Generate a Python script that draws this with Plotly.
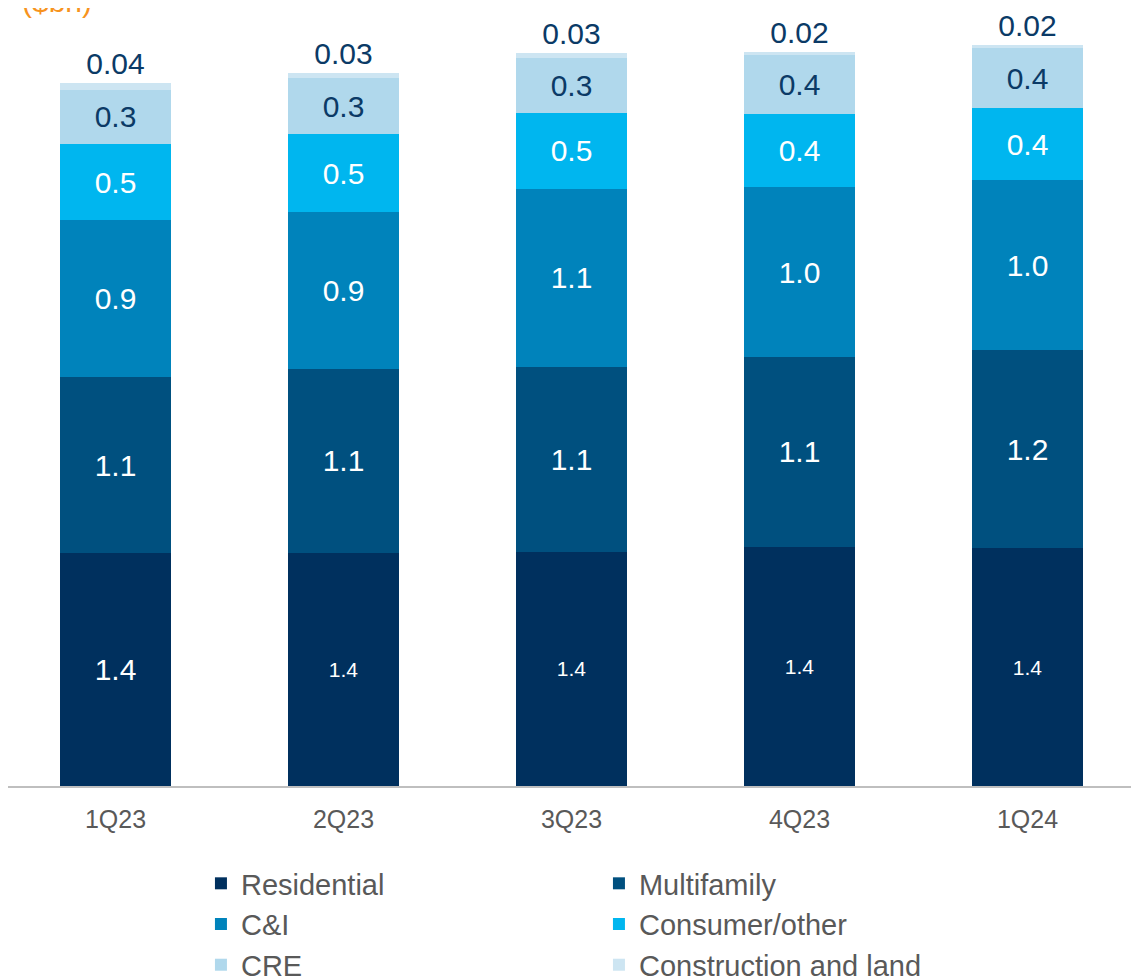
import plotly.graph_objects as go

quarters = ["1Q23", "2Q23", "3Q23", "4Q23", "1Q24"]
residential = [1.41, 1.41, 1.42, 1.45, 1.44]
multifamily = [1.07, 1.12, 1.12, 1.15, 1.20]
c_and_i = [0.95, 0.95, 1.08, 1.03, 1.03]
consumer_other = [0.46, 0.47, 0.46, 0.44, 0.44]
cre = [0.33, 0.34, 0.33, 0.36, 0.36]
construction_land = [0.04, 0.03, 0.03, 0.02, 0.02]

series = [
    ("Residential", residential, "#00305E", "white", "%{y:.1f}"),
    ("Multifamily", multifamily, "#00507F", "white", "%{y:.1f}"),
    ("C&I", c_and_i, "#0083BB", "white", "%{y:.1f}"),
    ("Consumer/other", consumer_other, "#00B6EF", "white", "%{y:.1f}"),
    ("CRE", cre, "#B0D8EC", "#0B3A66", "%{y:.1f}"),
    ("Construction and land", construction_land, "#CDE5F2", "#0B3A66", "%{y:.2f}"),
]

fig = go.Figure()
for i, (name, vals, color, tcolor, tmpl) in enumerate(series):
    size = 30
    if name == "Residential":
        size = [30, 21, 21, 21, 21]
    pos = "outside" if name == "Construction and land" else "inside"
    fig.add_trace(go.Bar(
        x=quarters, y=vals, name=name,
        marker=dict(color=color, line=dict(width=0)),
        texttemplate=tmpl, textposition=pos,
        insidetextanchor="middle",
        textfont=dict(color=tcolor, size=size, family="Liberation Sans, Arial"),
        outsidetextfont=dict(color="#0B3A66", size=30, family="Liberation Sans, Arial"),
        constraintext="none", cliponaxis=False,
        hoverinfo="skip",
    ))

fig.update_layout(
    width=1139, height=980,
    barmode="stack", bargap=0.513,
    plot_bgcolor="white", paper_bgcolor="white",
    margin=dict(l=0, r=8, t=0, b=202, autoexpand=False),
    font=dict(family="Liberation Sans, Arial", color="#595959"),
    showlegend=True,
    legend=dict(
        orientation="h", traceorder="normal",
        x=0.1706, xanchor="left", y=-0.0925, yanchor="top",
        entrywidth=353, entrywidthmode="pixels",
        font=dict(size=29, color="#595959"),
        itemclick=False,
    ),
    annotations=[dict(
        text="($bn)", xref="paper", yref="paper", x=0.011, y=1.008,
        xanchor="left", yanchor="middle", showarrow=False,
        font=dict(size=30, color="#F7931E"),
    )],
)
fig.update_xaxes(
    range=[-0.4715, 4.489],
    showline=True, linecolor="#BFBFBF", linewidth=2,
    ticks="outside", ticklen=10, tickcolor="rgba(0,0,0,0)",
    tickfont=dict(size=25, color="#595959"),
    showgrid=False,
)
fig.update_yaxes(range=[0, 4.715], visible=False, showgrid=False)

fig.write_html("out.html")
